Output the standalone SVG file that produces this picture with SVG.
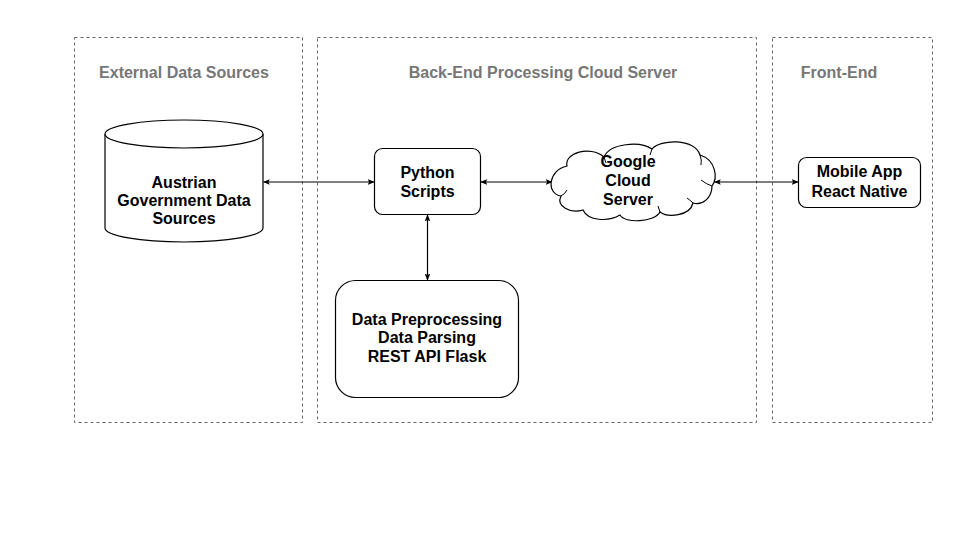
<svg xmlns="http://www.w3.org/2000/svg" width="960" height="540" viewBox="0 0 960 540">
<defs>
<style>
.zone{fill:none;stroke:#666;stroke-width:1;stroke-dasharray:3 3}
.title{font-family:"Liberation Sans",Arial,sans-serif;font-size:16px;font-weight:bold;fill:#777;text-anchor:middle}
.lbl{font-family:"Liberation Sans",Arial,sans-serif;font-size:16px;font-weight:bold;fill:#000;text-anchor:middle}
.shape{fill:#fff;stroke:#000;stroke-width:1.2}
.inner{fill:none;stroke:#000;stroke-width:1}
.conn{fill:none;stroke:#000;stroke-width:1.2;marker-start:url(#ah);marker-end:url(#ah)}
</style>
<marker id="ah" viewBox="0 0 10 10" refX="9" refY="5" markerWidth="7" markerHeight="7" markerUnits="userSpaceOnUse" orient="auto-start-reverse">
<path d="M0,1 L10,5 L0,9 L2,5 Z" fill="#000"/>
</marker>
</defs>
<rect width="960" height="540" fill="#fff"/>
<g id="zone-external">
<rect class="zone" x="74.5" y="37.5" width="228" height="385"/>
<text class="title" x="184" y="78">External Data Sources</text>
</g>
<g id="zone-backend">
<rect class="zone" x="317.5" y="37.5" width="439" height="385"/>
<text class="title" x="543" y="78">Back-End Processing Cloud Server</text>
</g>
<g id="zone-frontend">
<rect class="zone" x="772.5" y="37.5" width="160" height="385"/>
<text class="title" x="839" y="78">Front-End</text>
</g>
<g id="connectors">
<line class="conn" x1="263.5" y1="182" x2="374" y2="182"/>
<line class="conn" x1="481" y1="182" x2="552" y2="182"/>
<line class="conn" x1="714.5" y1="182" x2="798" y2="182"/>
<line class="conn" x1="427.5" y1="215" x2="427.5" y2="280"/>
</g>
<g id="node-austrian">
<path class="shape" d="M105,134 A79,14 0 0 1 263,134 L263,228 A79,14 0 0 1 105,228 Z"/>
<path class="shape" fill="none" d="M105,134 A79,14 0 0 0 263,134"/>
<text class="lbl" x="184" y="188">Austrian</text>
<text class="lbl" x="184" y="206">Government Data</text>
<text class="lbl" x="184" y="224">Sources</text>
</g>
<g id="node-python">
<rect class="shape" x="374.5" y="148.5" width="106" height="66" rx="8"/>
<text class="lbl" x="427.5" y="178">Python</text>
<text class="lbl" x="427.5" y="197">Scripts</text>
</g>
<g id="node-cloud">
<path class="shape" d="M561,196 C546,194 548,170 567,166 C564,153 590,145 604,157 C610,143 640,141 652,149 C660,139 695,138 700,155 C716,160 718,178 712,186 C712,198 702,206 693,203 C690,216 668,218 660,212 C655,222 625,224 620,215 C608,222 588,221 583,210 C570,214 556,206 561,196 Z"/>
<path class="inner" d="M561,196 Q565,194 567,190 M604,157 Q605,160 606,163 M652,149 Q651,152 650,155 M700,155 Q702,160 701,165 M712,186 Q706,184 701,180 M693,203 Q690,200 687,198 M660,212 Q659,209 658,206"/>
<text class="lbl" x="628" y="167">Google</text>
<text class="lbl" x="628" y="186">Cloud</text>
<text class="lbl" x="628" y="205">Server</text>
</g>
<g id="node-mobile">
<rect class="shape" x="798.5" y="157.5" width="122" height="50" rx="8"/>
<text class="lbl" x="859.5" y="177">Mobile App</text>
<text class="lbl" x="859.5" y="197">React Native</text>
</g>
<g id="node-data">
<rect class="shape" x="335.5" y="280.5" width="183" height="117" rx="20"/>
<text class="lbl" x="427" y="325">Data Preprocessing</text>
<text class="lbl" x="427" y="343">Data Parsing</text>
<text class="lbl" x="427" y="362">REST API Flask</text>
</g>
</svg>
